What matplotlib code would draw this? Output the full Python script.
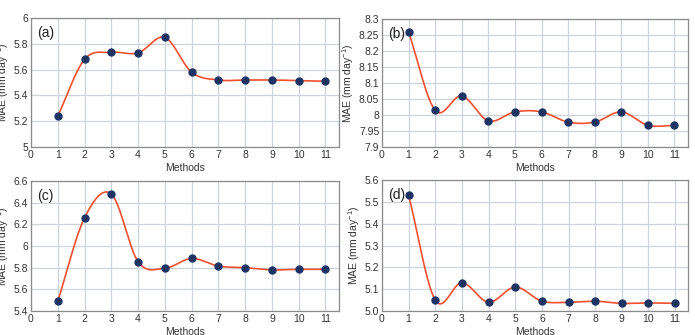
import numpy as np
import matplotlib
matplotlib.use("Agg")
import matplotlib.pyplot as plt
from matplotlib.ticker import FormatStrFormatter, FuncFormatter

plt.rcParams['font.family'] = ['Liberation Sans', 'DejaVu Sans']
plt.rcParams['mathtext.fontset'] = 'custom'
plt.rcParams['mathtext.rm'] = 'Liberation Sans'
plt.rcParams['mathtext.it'] = 'Liberation Sans:italic'

methods = list(range(1, 12))
mae_a = [5.24, 5.68, 5.735, 5.73, 5.85, 5.58, 5.52, 5.52, 5.52, 5.515, 5.51]
mae_b = [8.26, 8.015, 8.06, 7.982, 8.01, 8.01, 7.978, 7.978, 8.01, 7.968, 7.968]
mae_c = [5.49, 6.26, 6.48, 5.855, 5.795, 5.885, 5.815, 5.80, 5.78, 5.785, 5.785]
mae_d = [5.53, 5.05, 5.13, 5.04, 5.11, 5.045, 5.04, 5.045, 5.035, 5.037, 5.035]
labels = ['(a)', '(b)', '(c)', '(d)']
ylims = [(5.0, 6.0), (7.9, 8.3), (5.4, 6.6), (5.0, 5.6)]
ysteps = [0.2, 0.05, 0.2, 0.1]


def catmull_rom(x, y, n=30):
    x = np.asarray(x, float)
    y = np.asarray(y, float)
    px = np.concatenate([[2 * x[0] - x[1]], x, [2 * x[-1] - x[-2]]])
    py = np.concatenate([[2 * y[0] - y[1]], y, [2 * y[-1] - y[-2]]])
    xs, ys = [], []
    t = np.linspace(0, 1, n)
    for i in range(1, len(px) - 2):
        f = lambda a0, a1, a2, a3: 0.5 * ((2 * a1) + (-a0 + a2) * t +
                                          (2 * a0 - 5 * a1 + 4 * a2 - a3) * t ** 2 +
                                          (-a0 + 3 * a1 - 3 * a2 + a3) * t ** 3)
        xs.append(f(px[i - 1], px[i], px[i + 1], px[i + 2]))
        ys.append(f(py[i - 1], py[i], py[i + 1], py[i + 2]))
    return np.concatenate(xs), np.concatenate(ys)


fig = plt.figure(figsize=(6.95, 3.35), dpi=100)
positions = [
    [0.0446, 0.561, 0.443, 0.385],
    [0.5496, 0.561, 0.440, 0.382],
    [0.0446, 0.0716, 0.443, 0.388],
    [0.5496, 0.0716, 0.441, 0.391],
]
data = [mae_a, mae_b, mae_c, mae_d]

for k, (pos, vals) in enumerate(zip(positions, data)):
    ax = fig.add_axes(pos)
    sx, sy = catmull_rom(methods, vals)
    ax.plot(sx, sy, color='#f0502e', lw=1.2, zorder=3)
    ax.plot(methods, vals, 'o', color='#1c3364', ms=5, zorder=4)
    lo, hi = ylims[k]
    ax.set_ylim(lo, hi)
    ax.set_xlim(0, 11.5)
    ax.set_xticks(range(0, 12))
    ax.set_yticks(np.arange(lo, hi + ysteps[k] / 2, ysteps[k]))
    if k == 3:
        ax.yaxis.set_major_formatter(FormatStrFormatter('%.1f'))
    else:
        ax.yaxis.set_major_formatter(FuncFormatter(lambda v, p: '%g' % round(v, 3)))
    ax.grid(True, color='#cdd3da', lw=0.9)
    ax.set_axisbelow(True)
    for s in ax.spines.values():
        s.set_color('#8a8a8a')
        s.set_linewidth(0.9)
    ax.tick_params(length=0, labelsize=7.5, colors='#333333', pad=2)
    ax.set_xlabel('Methods', fontsize=7.5, color='#333333', labelpad=2)
    ax.set_ylabel('MAE (mm day$^{-1}$)', fontsize=7.5, color='#333333', labelpad=2)
    ax.text(0.02, 0.94, labels[k], transform=ax.transAxes, fontsize=10,
            va='top', ha='left', color='#222222')

fig.savefig('out.png', dpi=100)
